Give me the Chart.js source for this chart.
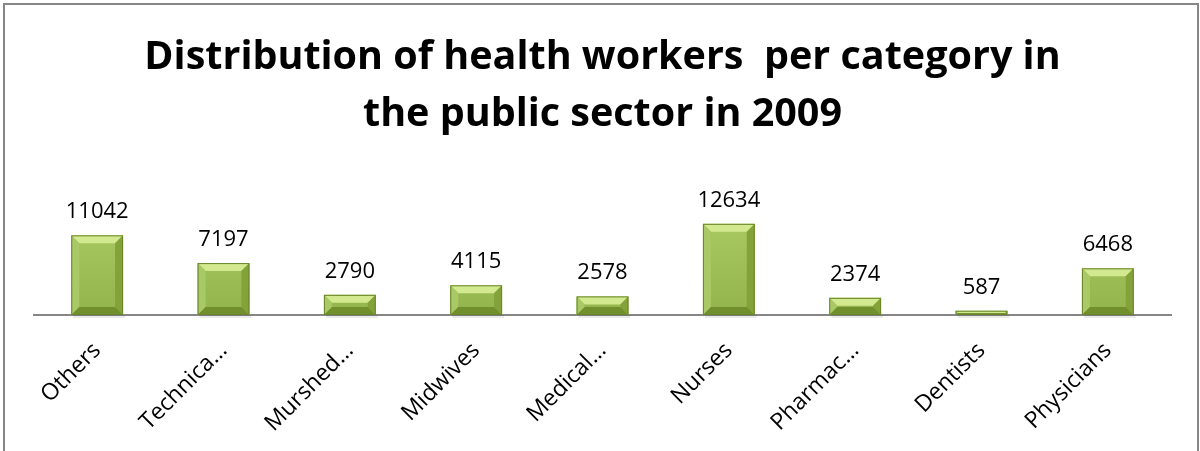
<!DOCTYPE html>
<html>
<head>
<meta charset="utf-8">
<script src="https://cdn.jsdelivr.net/npm/chart.js@4/dist/chart.umd.min.js"></script>
<style>
html,body{margin:0;padding:0;background:#fff;}
#wrap{position:relative;width:1200px;height:451px;}
</style>
</head>
<body>
<div id="wrap"><canvas id="c" width="1200" height="451"></canvas></div>
<script>
const categories = ["Others", "Technica…", "Murshed…", "Midwives", "Medical…", "Nurses", "Pharmac…", "Dentists", "Physicians"];
const workers = [11042, 7197, 2790, 4115, 2578, 12634, 2374, 587, 6468];
const titleLines = ["Distribution of health workers  per category in", "the public sector in 2009"];
const yMax = 14000;

const frame = {
  id: 'frame',
  beforeDraw(chart) {
    const ctx = chart.ctx;
    ctx.save();
    ctx.fillStyle = '#fff';
    ctx.fillRect(0, 0, chart.width, chart.height);
    ctx.strokeStyle = '#878787';
    ctx.lineWidth = 2;
    ctx.strokeRect(4, 4, 1194, 600);
    ctx.restore();
  }
};

const bevel = {
  id: 'bevel',
  afterDatasetsDraw(chart) {
    const ctx = chart.ctx;
    const meta = chart.getDatasetMeta(0);
    ctx.save();
    meta.data.forEach((bar, i) => {
      const p = bar.getProps(['x', 'y', 'base', 'width'], true);
      const l = p.x - p.width / 2, r = p.x + p.width / 2, t = p.y, b = p.base;
      const h = b - t;
      const s = Math.min(8, h / 2, p.width / 2);
      // soft shadow
      ctx.fillStyle = 'rgba(0,0,0,0.08)';
      ctx.fillRect(l + 2, b, p.width, 3);
      // top bevel
      ctx.fillStyle = '#d2e98f';
      ctx.beginPath(); ctx.moveTo(l, t); ctx.lineTo(r, t); ctx.lineTo(r - s, t + s); ctx.lineTo(l + s, t + s); ctx.closePath(); ctx.fill();
      // left bevel
      ctx.fillStyle = '#a9c966';
      ctx.beginPath(); ctx.moveTo(l, t); ctx.lineTo(l + s, t + s); ctx.lineTo(l + s, b - s); ctx.lineTo(l, b); ctx.closePath(); ctx.fill();
      // right bevel
      ctx.fillStyle = '#83a33a';
      ctx.beginPath(); ctx.moveTo(r, t); ctx.lineTo(r - s, t + s); ctx.lineTo(r - s, b - s); ctx.lineTo(r, b); ctx.closePath(); ctx.fill();
      // bottom bevel
      ctx.fillStyle = '#718f2d';
      ctx.beginPath(); ctx.moveTo(l, b); ctx.lineTo(r, b); ctx.lineTo(r - s, b - s); ctx.lineTo(l + s, b - s); ctx.closePath(); ctx.fill();
      // outline
      ctx.strokeStyle = '#6a862a';
      ctx.lineWidth = 1;
      ctx.strokeRect(l + 0.5, t + 0.5, p.width - 1, h - 1);
      // value label
      ctx.fillStyle = '#000';
      ctx.font = '22px "Open Sans"';
      ctx.textAlign = 'center';
      ctx.textBaseline = 'alphabetic';
      ctx.fillText(String(workers[i]), p.x, t - 17);
    });
    ctx.restore();
  }
};

const ctx = document.getElementById('c').getContext('2d');
new Chart(ctx, {
  type: 'bar',
  data: {
    labels: categories,
    datasets: [{
      data: workers,
      backgroundColor(c) {
        const area = c.chart.chartArea;
        if (!area) return '#9bbb59';
        const g = c.chart.ctx.createLinearGradient(0, area.top, 0, area.bottom);
        g.addColorStop(0, '#aacb63');
        g.addColorStop(1, '#93b44c');
        return g;
      },
      borderWidth: 0,
      barPercentage: 0.41,
      categoryPercentage: 1.0
    }]
  },
  options: {
    responsive: false,
    animation: false,
    devicePixelRatio: 1,
    layout: { padding: { left: 34, right: 29, top: 0, bottom: 0 } },
    plugins: {
      legend: { display: false },
      tooltip: { enabled: false },
      title: {
        display: true,
        text: titleLines,
        color: '#000',
        font: { family: 'Open Sans', size: 39.5, weight: 'bold', lineHeight: 1.443 },
        padding: { top: 29, bottom: 71 }
      }
    },
    scales: {
      x: {
        grid: { display: false, drawTicks: false },
        border: { display: true, color: '#868686', width: 2 },
        ticks: {
          color: '#000',
          font: { family: 'Open Sans', size: 23 },
          minRotation: 45,
          maxRotation: 45,
          padding: 22,
          autoSkip: false
        },
        afterFit(scale) { scale.height = 136; }
      },
      y: {
        display: false,
        min: 0,
        max: yMax
      }
    }
  },
  plugins: [frame, bevel]
});
</script>
</body>
</html>
